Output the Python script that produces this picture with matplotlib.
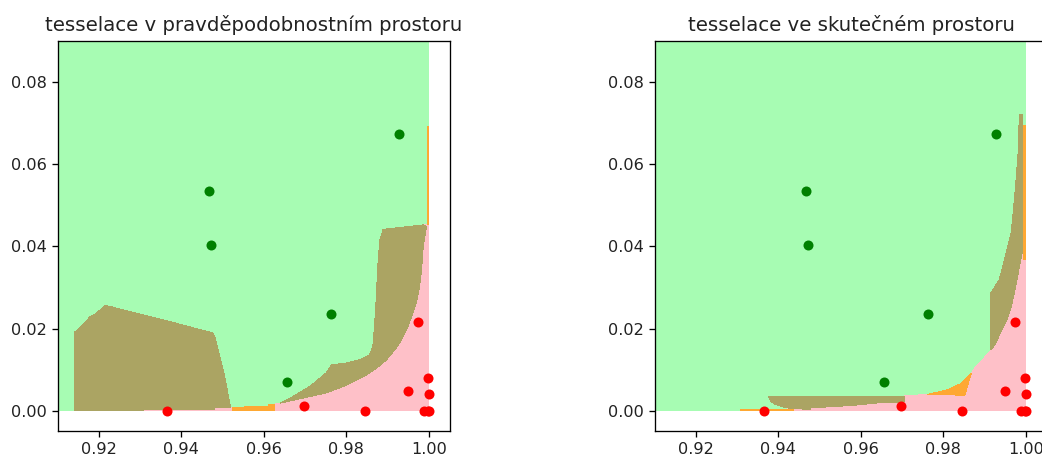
import matplotlib.pyplot as plt
import numpy as np

# sample points (same in both panels)
green_x = [0.9927, 0.9466, 0.9472, 0.9762, 0.9655]
green_y = [0.0673, 0.0535, 0.0402, 0.0235, 0.0071]
red_x = [0.9366, 0.9697, 0.9845, 0.9973, 0.9950, 0.9997, 1.0000, 0.9987, 0.9997, 1.0000]
red_y = [0.0000, 0.0012, 0.0000, 0.0217, 0.0048, 0.0079, 0.0042, 0.0000, 0.0000, 0.0000]

# region boundaries, probability space
left_outer = [(0.9640, 0.0019), (0.9671, 0.0035), (0.9711, 0.0059), (0.9751, 0.0092), (0.9764, 0.0112),
              (0.9800, 0.0116), (0.9832, 0.0124), (0.9856, 0.0136), (0.9864, 0.0156), (0.9868, 0.0205),
              (0.9872, 0.0270), (0.9876, 0.0351), (0.9881, 0.0415), (0.9889, 0.0441), (0.9986, 0.0452)]
left_inner = [(0.9994, 0.0448), (0.9986, 0.0399), (0.9982, 0.0343), (0.9977, 0.0302), (0.9971, 0.0270),
              (0.9961, 0.0237), (0.9949, 0.0205), (0.9933, 0.0172), (0.9917, 0.0148), (0.9897, 0.0124),
              (0.9873, 0.0104), (0.9848, 0.0087), (0.9824, 0.0075), (0.9792, 0.0059), (0.9752, 0.0044),
              (0.9695, 0.0031)]
left_strip = [(0.9307, 0.0000), (0.9307, 0.0003), (0.9481, 0.0003), (0.9481, 0.0009), (0.9524, 0.0009),
              (0.9610, 0.0010), (0.9610, 0.0016), (0.9626, 0.0016)]
left_block = [(0.9140, 0.0000), (0.9140, 0.0190), (0.9158, 0.0205), (0.9178, 0.0228), (0.9194, 0.0237),
              (0.9215, 0.0256), (0.9231, 0.0253), (0.9259, 0.0245), (0.9316, 0.0231), (0.9372, 0.0217),
              (0.9428, 0.0202), (0.9477, 0.0189), (0.9481, 0.0180), (0.9493, 0.0132), (0.9505, 0.0083),
              (0.9517, 0.0019), (0.9519, 0.0009), (0.9481, 0.0009), (0.9481, 0.0003), (0.9307, 0.0003),
              (0.9307, 0.0000)]
left_orange_bottom = [(0.9524, 0.0000), (0.9524, 0.0009), (0.9610, 0.0010), (0.9610, 0.0016),
                      (0.9626, 0.0016), (0.9626, 0.0000)]
left_orange_edge = [(0.9995, 0.0452), (0.9995, 0.0692), (1.0000, 0.0692), (1.0000, 0.0452)]

# region boundaries, real space
right_outer = [(0.9376, 0.0034), (0.9705, 0.0036), (0.9762, 0.0040), (0.9810, 0.0051), (0.9842, 0.0066),
               (0.9867, 0.0090), (0.9879, 0.0109), (0.9895, 0.0124), (0.9915, 0.0148), (0.9915, 0.0286),
               (0.9927, 0.0306), (0.9935, 0.0318), (0.9948, 0.0367), (0.9956, 0.0399), (0.9964, 0.0432),
               (0.9968, 0.0472), (0.9972, 0.0513), (0.9976, 0.0561), (0.9981, 0.0626), (0.9984, 0.0721),
               (0.9992, 0.0721)]
right_strip_bottom = [(0.9705, 0.0022), (0.9636, 0.0019), (0.9588, 0.0014), (0.9531, 0.0010), (0.9479, 0.0008),
                      (0.9479, 0.0004), (0.9434, 0.0005), (0.9414, 0.0009), (0.9394, 0.0015), (0.9382, 0.0023)]
right_spike_inner = [(0.9992, 0.0610), (0.9998, 0.0600), (0.9998, 0.0420), (0.9992, 0.0391), (0.9984, 0.0350),
                     (0.9978, 0.0318), (0.9972, 0.0286), (0.9964, 0.0253), (0.9952, 0.0217), (0.9939, 0.0193),
                     (0.9927, 0.0164)]
right_orange_bottom = [(0.9307, 0.0000), (0.9307, 0.0005), (0.9438, 0.0005), (0.9438, 0.0000)]
right_orange_wedge = [(0.9762, 0.0040), (0.9810, 0.0051), (0.9842, 0.0066), (0.9867, 0.0090), (0.9852, 0.0038)]
right_orange_edge = [(0.9994, 0.0367), (0.9994, 0.0695), (1.0000, 0.0695), (1.0000, 0.0367)]

c_green = '#a7fcb3'
c_pink = '#fec0c8'
c_olive = '#aba463'
c_orange = '#fea833'


def fill(ax, pts, color):
    pts = np.array(pts)
    ax.fill(pts[:, 0], pts[:, 1], color=color, lw=0, antialiased=False)


def draw_panel(ax, title, pink, olives, oranges):
    fill(ax, [(0.90, 0.0), (0.90, 0.1), (1.0, 0.1), (1.0, 0.0)], c_green)
    fill(ax, pink, c_pink)
    for p in olives:
        fill(ax, p, c_olive)
    for p in oranges:
        fill(ax, p, c_orange)
    ax.scatter(green_x, green_y, s=52, c='green', lw=0, zorder=3)
    ax.scatter(red_x, red_y, s=52, c='red', lw=0, zorder=3)
    ax.set_xlim(0.9101, 1.0051)
    ax.set_ylim(-0.0049, 0.0899)
    ax.set_xticks([0.92, 0.94, 0.96, 0.98, 1.00])
    ax.set_yticks([0.00, 0.02, 0.04, 0.06, 0.08])
    ax.tick_params(labelsize=11.6, length=4.1, width=0.95, pad=4.1, labelcolor='#222222')
    for s in ax.spines.values():
        s.set_linewidth(0.95)
    ax.set_title(title, fontsize=14.2, pad=7, color='#222222')


fig = plt.figure(figsize=(10.42, 4.61), dpi=100)
ax1 = fig.add_axes([58 / 1042, 30 / 461, 392 / 1042, 390 / 461])
ax2 = fig.add_axes([655 / 1042, 30 / 461, 392 / 1042, 390 / 461])

left_pink = left_strip + left_outer + [(1.0, 0.0452), (1.0, 0.0)]
left_band = left_outer + left_inner
draw_panel(ax1, 'tesselace v pravděpodobnostním prostoru', left_pink,
           [left_block, left_band], [left_orange_bottom, left_orange_edge])

right_pink = [(0.9438, 0.0)] + right_strip_bottom[::-1][:5] + right_outer + right_spike_inner[:3] + \
             [(1.0, 0.0420), (1.0, 0.0)]
right_strip = right_outer[:2] + right_strip_bottom
right_spike = right_outer[8:] + right_spike_inner
draw_panel(ax2, 'tesselace ve skutečném prostoru', right_pink,
           [right_strip, right_spike], [right_orange_bottom, right_orange_wedge, right_orange_edge])

fig.savefig('out.png', dpi=100)
